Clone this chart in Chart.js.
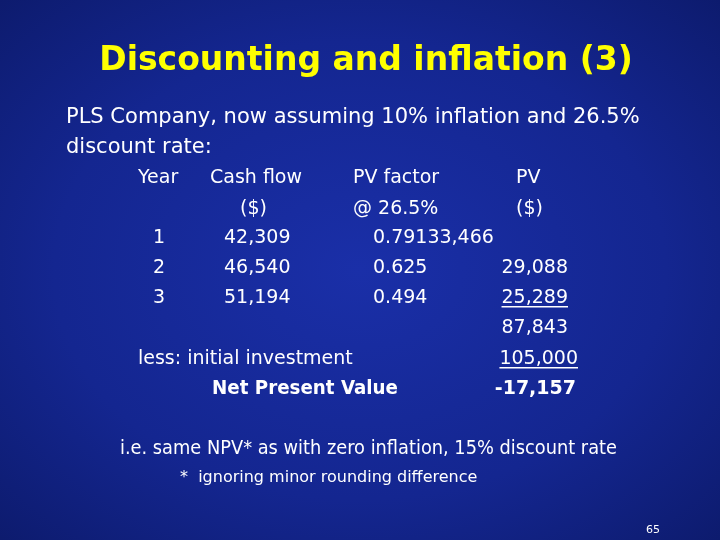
<!DOCTYPE html>
<html><head><meta charset="utf-8">
<script src="https://cdn.jsdelivr.net/npm/chart.js@4"></script>
<style>
html,body{margin:0;padding:0;width:720px;height:540px;overflow:hidden;
background:radial-gradient(ellipse at 50% 50%,#1a2fa8 0%,#142690 60%,#0d1b6e 100%);}
#c{display:block}
</style></head><body>
<canvas id="c" width="720" height="540"></canvas>
<script>
// Slide content
const title = 'Discounting and inflation (3)';
const intro = ['PLS Company, now assuming 10% inflation and 26.5%', 'discount rate:'];
const headers = [['Year', 'Cash flow', 'PV factor', 'PV'], ['', '($)', '@ 26.5%', '($)']];
const years = ['1', '2', '3'];
const cashFlows = ['42,309', '46,540', '51,194'];
const pvFactors = ['0.791', '0.625', '0.494'];
const pvs = ['33,466', '29,088', '25,289'];
const totalPV = '87,843';
const investment = '105,000';
const npv = '-17,157';
const note = 'i.e. same NPV* as with zero inflation, 15% discount rate';
const footnote = '*  ignoring minor rounding difference';
const pageNo = '65';

const F = '"DejaVu Sans", sans-serif';

const slidePlugin = {
  id: 'slide',
  afterDraw(chart) {
    const ctx = chart.ctx;
    ctx.save();
    ctx.textBaseline = 'alphabetic';
    const t = (s, x, y, size, opts = {}) => {
      ctx.font = (opts.bold ? 'bold ' : '') + size + 'px ' + F;
      ctx.fillStyle = opts.color || '#ffffff';
      ctx.textAlign = opts.align || 'left';
      ctx.fillText(s, x, y, opts.max);
      if (opts.underline) {
        const w = ctx.measureText(s).width;
        const x0 = opts.align === 'right' ? x - w : x;
        ctx.fillRect(x0, y + 3, w, 1.5);
      }
    };
    t(title, 366, 70, 33, {bold: true, color: '#ffff00', align: 'center', max: 545});
    t(intro[0], 66, 123, 21, {max: 586});
    t(intro[1], 66, 153, 21);
    const hx = [138, 210, 353, 516];
    headers[0].forEach((h, i) => t(h, hx[i], 183, 19));
    t(headers[1][1], 240, 214, 19);
    t(headers[1][2], 353, 214, 19);
    t(headers[1][3], 516, 214, 19);
    years.forEach((y, i) => {
      const yy = 243 + i * 30;
      t(y, 153, yy, 19);
      t(cashFlows[i], 224, yy, 19);
      if (i === 0) {
        t(pvFactors[i] + pvs[i], 373, yy, 19);
      } else {
        t(pvFactors[i], 373, yy, 19);
        t(pvs[i], 568, yy, 19, {align: 'right', underline: i === 2});
      }
    });
    t(totalPV, 568, 333, 19, {align: 'right'});
    t('less: initial investment', 138, 364, 19);
    t(investment, 578, 364, 19, {align: 'right', underline: true});
    t('Net Present Value', 212, 394, 19, {bold: true, max: 186});
    t(npv, 576, 394, 19, {bold: true, align: 'right'});
    t(note, 120, 454, 19, {max: 497});
    t(footnote, 180, 482, 16, {max: 328});
    t(pageNo, 646, 533, 11);
    ctx.restore();
  }
};

new Chart(document.getElementById('c'), {
  type: 'bar',
  data: {labels: years, datasets: []},
  options: {
    responsive: false,
    animation: false,
    events: [],
    scales: {x: {display: false}, y: {display: false}},
    plugins: {legend: {display: false}, tooltip: {enabled: false}}
  },
  plugins: [slidePlugin]
});
</script>
</body></html>
